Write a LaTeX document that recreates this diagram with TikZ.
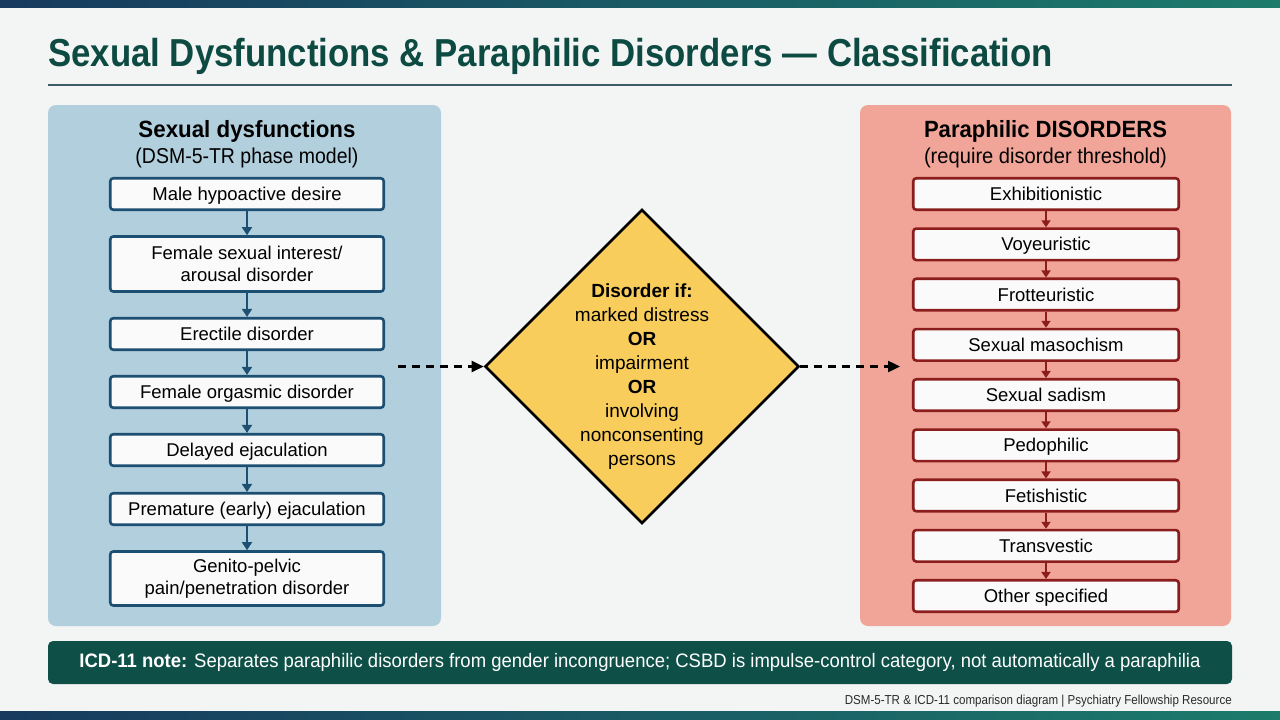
\documentclass[tikz,border=0pt]{standalone}
\usepackage{fontspec}
\setmainfont{Liberation Sans}
\usetikzlibrary{shapes.geometric,arrows.meta}
\definecolor{bgcol}{HTML}{F3F4F4}
\definecolor{navy}{HTML}{173A5E}
\definecolor{tealbar}{HTML}{1C7B6B}
\definecolor{titlecol}{HTML}{0C4A42}
\definecolor{rulecol}{HTML}{3C5A68}
\definecolor{lpanel}{HTML}{B2CFDD}
\definecolor{lborder}{HTML}{1D4F73}
\definecolor{rpanel}{HTML}{F1A598}
\definecolor{rborder}{HTML}{8C1D1D}
\definecolor{boxfill}{HTML}{FAFAFA}
\definecolor{diafill}{HTML}{F8CD5B}
\definecolor{notecol}{HTML}{0E5047}
\definecolor{footcol}{HTML}{2A2A2A}
\begin{document}
\begin{tikzpicture}[x=1pt,y=-1pt,
  boxtext/.style={font=\fontsize{18.5}{22}\selectfont, text=black, align=center},
  one/.style={text height=17pt, text depth=3.7pt},
  lbox/.style={boxtext, draw=lborder, line width=2.6pt, fill=boxfill, rounded corners=3pt,
    minimum width=273.5pt, minimum height=31.5pt, inner sep=2pt},
  rbox/.style={boxtext, one, draw=rborder, line width=2.6pt, fill=boxfill, rounded corners=3pt,
    minimum width=265.5pt, minimum height=31.5pt, inner sep=2pt},
  larrow/.style={draw=lborder, line width=1.8pt, -{Triangle[length=8pt,width=10pt]}},
  rarrow/.style={draw=rborder, line width=1.8pt, -{Triangle[length=7pt,width=9pt]}},
  darrow/.style={draw=black, line width=2.4pt, dash pattern=on 8pt off 6pt, -{Triangle[length=12pt,width=11pt]}},
  ptitle/.style={font=\bfseries\fontsize{23.5}{23.5}\selectfont, text=black},
  psub/.style={font=\fontsize{21.5}{21.5}\selectfont, text=black},
  dline/.style={font=\fontsize{19}{24}\selectfont, text=black, align=center}
]
\useasboundingbox (0,0) rectangle (1280,720);
\fill[bgcol] (0,0) rectangle (1280,720);
\shade[left color=navy, right color=tealbar] (0,0) rectangle (1280,7);
\shade[left color=navy, right color=tealbar] (0,711) rectangle (1280,720);

% title
\node[anchor=base west, inner sep=0, text=titlecol, font=\bfseries\fontsize{39}{39}\selectfont] (title) at (48,66)
  {\resizebox{1005pt}{\height}{Sexual Dysfunctions \& Paraphilic Disorders — Classification}};
\draw[rulecol, line width=2pt] (48,85) -- (1232,85);

% panels
\fill[lpanel, rounded corners=8pt] (48,105) rectangle (441,626);
\fill[rpanel, rounded corners=8pt] (860,105) rectangle (1231,626);

\node[ptitle, anchor=base] (ltitle) at (247,137) {\resizebox{217pt}{\height}{Sexual dysfunctions}};
\node[psub, anchor=base] (lsub) at (247,163) {\resizebox{223pt}{\height}{(DSM-5-TR phase model)}};
\node[ptitle, anchor=base] (rtitle) at (1045.5,137) {\resizebox{243pt}{\height}{Paraphilic DISORDERS}};
\node[psub, anchor=base] (rsub) at (1045.5,163) {\resizebox{243pt}{\height}{(require disorder threshold)}};

% left boxes
\node[lbox, one] (l1) at (247,194) {Male hypoactive desire};
\node[lbox, minimum height=55pt] (l2) at (247,264) {Female sexual interest/\\arousal disorder};
\node[lbox, one] (l3) at (247,334) {Erectile disorder};
\node[lbox, one] (l4) at (247,392) {Female orgasmic disorder};
\node[lbox, one] (l5) at (247,450) {Delayed ejaculation};
\node[lbox, one] (l6) at (247,509) {Premature (early) ejaculation};
\node[lbox, minimum height=54pt] (l7) at (247,578.5) {Genito-pelvic\\pain/penetration disorder};
\foreach \a/\b in {l1/l2,l2/l3,l3/l4,l4/l5,l5/l6,l6/l7}
  \draw[larrow] (\a) -- (\b);

% right boxes
\node[rbox] (r1) at (1046,194) {Exhibitionistic};
\node[rbox] (r2) at (1046,244.3) {Voyeuristic};
\node[rbox] (r3) at (1046,294.5) {Frotteuristic};
\node[rbox] (r4) at (1046,344.8) {Sexual masochism};
\node[rbox] (r5) at (1046,395) {Sexual sadism};
\node[rbox] (r6) at (1046,445.3) {Pedophilic};
\node[rbox] (r7) at (1046,495.5) {Fetishistic};
\node[rbox] (r8) at (1046,545.8) {Transvestic};
\node[rbox] (r9) at (1046,596) {Other specified};
\foreach \a/\b in {r1/r2,r2/r3,r3/r4,r4/r5,r5/r6,r6/r7,r7/r8,r8/r9}
  \draw[rarrow] (\a) -- (\b);

% diamond
\node[diamond, draw=black, line width=2.6pt, fill=diafill, minimum width=314pt, minimum height=314pt, inner sep=0pt] (dia) at (642,366.5) {};
\node[dline] (dtext) at (642,377) {\textbf{Disorder if:}\\marked distress\\\textbf{OR}\\impairment\\\textbf{OR}\\involving\\nonconsenting\\persons};

\coordinate (lstart) at (398,366.5);
\coordinate (rend) at (900,366.5);
\draw[darrow] (lstart) -- (dia.west);
\draw[darrow] (dia.east) -- (rend);

% note bar
\node[fill=notecol, rounded corners=5pt, minimum width=1184pt, minimum height=43pt, inner sep=0pt,
  text=white, font=\fontsize{19.5}{19.5}\selectfont] (note) at (640,662.5)
  {\resizebox{1121pt}{\height}{\textbf{ICD-11 note:} Separates paraphilic disorders from gender incongruence; CSBD is impulse-control category, not automatically a paraphilia}};

% footer
\node[anchor=base east, inner sep=0, text=footcol, font=\fontsize{13}{13}\selectfont] (foot) at (1232,704)
  {\resizebox{387pt}{\height}{DSM-5-TR \& ICD-11 comparison diagram | Psychiatry Fellowship Resource}};
\end{tikzpicture}
\end{document}
